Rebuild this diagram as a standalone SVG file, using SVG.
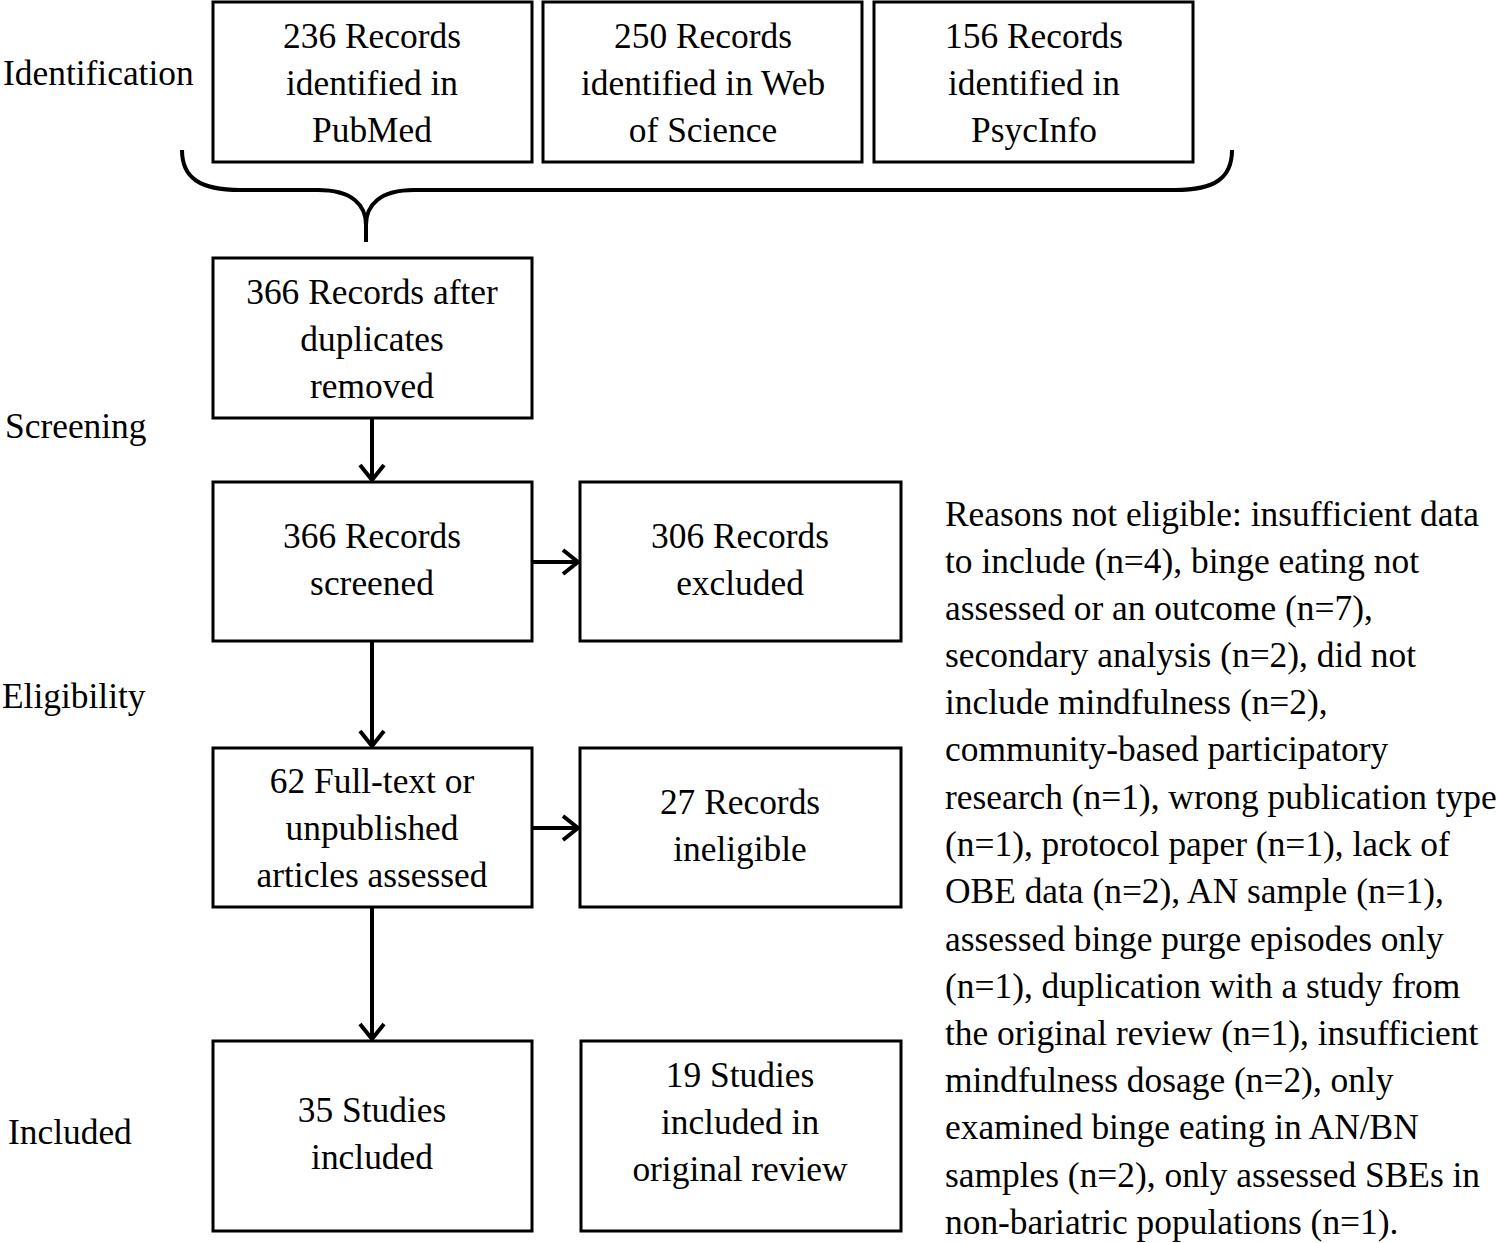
<svg xmlns="http://www.w3.org/2000/svg" width="1497" height="1243" viewBox="0 0 1497 1243">
<style>
.box{fill:#fff;stroke:#000;stroke-width:3}
.t{font-family:"Liberation Serif","Times New Roman",serif;font-size:35.4px;fill:#000}
.c{text-anchor:middle}
.conn{stroke:#000;stroke-width:4;fill:none}
</style>
<defs>
<marker id="arr" markerWidth="22" markerHeight="28" refX="18" refY="14" orient="auto" markerUnits="userSpaceOnUse">
<path d="M3,2 L18,14 L3,26" fill="none" stroke="#000" stroke-width="4"/>
</marker>
</defs>
<rect width="1497" height="1243" fill="#fff"/>
<g id="labels">
<text class="t" x="3" y="85">Identification</text>
<text class="t" x="5" y="438">Screening</text>
<text class="t" x="2" y="708">Eligibility</text>
<text class="t" x="8" y="1144">Included</text>
</g>
<g id="n1"><rect class="box" x="213" y="2" width="319" height="160"/>
<text class="t c" x="372" y="48">236 Records</text><text class="t c" x="372" y="95">identified in</text><text class="t c" x="372" y="142">PubMed</text></g>
<g id="n2"><rect class="box" x="543" y="2" width="319" height="160"/>
<text class="t c" x="703" y="48">250 Records</text><text class="t c" x="703" y="95">identified in Web</text><text class="t c" x="703" y="142">of Science</text></g>
<g id="n3"><rect class="box" x="874" y="2" width="319" height="160"/>
<text class="t c" x="1034" y="48">156 Records</text><text class="t c" x="1034" y="95">identified in</text><text class="t c" x="1034" y="142">PsycInfo</text></g>
<g id="n4"><rect class="box" x="213" y="258" width="319" height="160"/>
<text class="t c" x="372" y="304">366 Records after</text><text class="t c" x="372" y="351">duplicates</text><text class="t c" x="372" y="398">removed</text></g>
<g id="n5"><rect class="box" x="213" y="482" width="319" height="159"/>
<text class="t c" x="372" y="548">366 Records</text><text class="t c" x="372" y="595">screened</text></g>
<g id="n6"><rect class="box" x="580" y="482" width="321" height="159"/>
<text class="t c" x="740" y="548">306 Records</text><text class="t c" x="740" y="595">excluded</text></g>
<g id="n7"><rect class="box" x="213" y="748" width="319" height="159"/>
<text class="t c" x="372" y="793">62 Full-text or</text><text class="t c" x="372" y="840">unpublished</text><text class="t c" x="372" y="887">articles assessed</text></g>
<g id="n8"><rect class="box" x="580" y="748" width="321" height="159"/>
<text class="t c" x="740" y="814">27 Records</text><text class="t c" x="740" y="861">ineligible</text></g>
<g id="n9"><rect class="box" x="213" y="1041" width="319" height="190"/>
<text class="t c" x="372" y="1122">35 Studies</text><text class="t c" x="372" y="1169">included</text></g>
<g id="n10"><rect class="box" x="581" y="1041" width="320" height="190"/>
<text class="t c" x="740" y="1087">19 Studies</text><text class="t c" x="740" y="1134">included in</text><text class="t c" x="740" y="1181">original review</text></g>
<g id="reasons">
<text class="t" x="945" y="526">Reasons not eligible: insufficient data</text>
<text class="t" x="945" y="573">to include (n=4), binge eating not</text>
<text class="t" x="945" y="620">assessed or an outcome (n=7),</text>
<text class="t" x="945" y="667">secondary analysis (n=2), did not</text>
<text class="t" x="945" y="714">include mindfulness (n=2),</text>
<text class="t" x="945" y="761">community-based participatory</text>
<text class="t" x="945" y="809">research (n=1), wrong publication type</text>
<text class="t" x="945" y="856">(n=1), protocol paper (n=1), lack of</text>
<text class="t" x="945" y="903">OBE data (n=2), AN sample (n=1),</text>
<text class="t" x="945" y="951">assessed binge purge episodes only</text>
<text class="t" x="945" y="998">(n=1), duplication with a study from</text>
<text class="t" x="945" y="1045">the original review (n=1), insufficient</text>
<text class="t" x="945" y="1092">mindfulness dosage (n=2), only</text>
<text class="t" x="945" y="1139">examined binge eating in AN/BN</text>
<text class="t" x="945" y="1187">samples (n=2), only assessed SBEs in</text>
<text class="t" x="945" y="1234">non-bariatric populations (n=1).</text>
</g>
<g id="connectors">
<path class="conn" d="M182,150 C182,178 200,190 240,190 L318,190 C352,190 366,205 366,225 C366,205 380,190 414,190 L1175,190 C1215,190 1232,178 1232,150"/>
<path class="conn" d="M366,222 L366,242"/>
<path class="conn" d="M372,418 L372,480" marker-end="url(#arr)"/>
<path class="conn" d="M372,641 L372,746" marker-end="url(#arr)"/>
<path class="conn" d="M372,907 L372,1039" marker-end="url(#arr)"/>
<path class="conn" d="M532,562 L578,562" marker-end="url(#arr)"/>
<path class="conn" d="M532,828 L578,828" marker-end="url(#arr)"/>
</g>
</svg>
